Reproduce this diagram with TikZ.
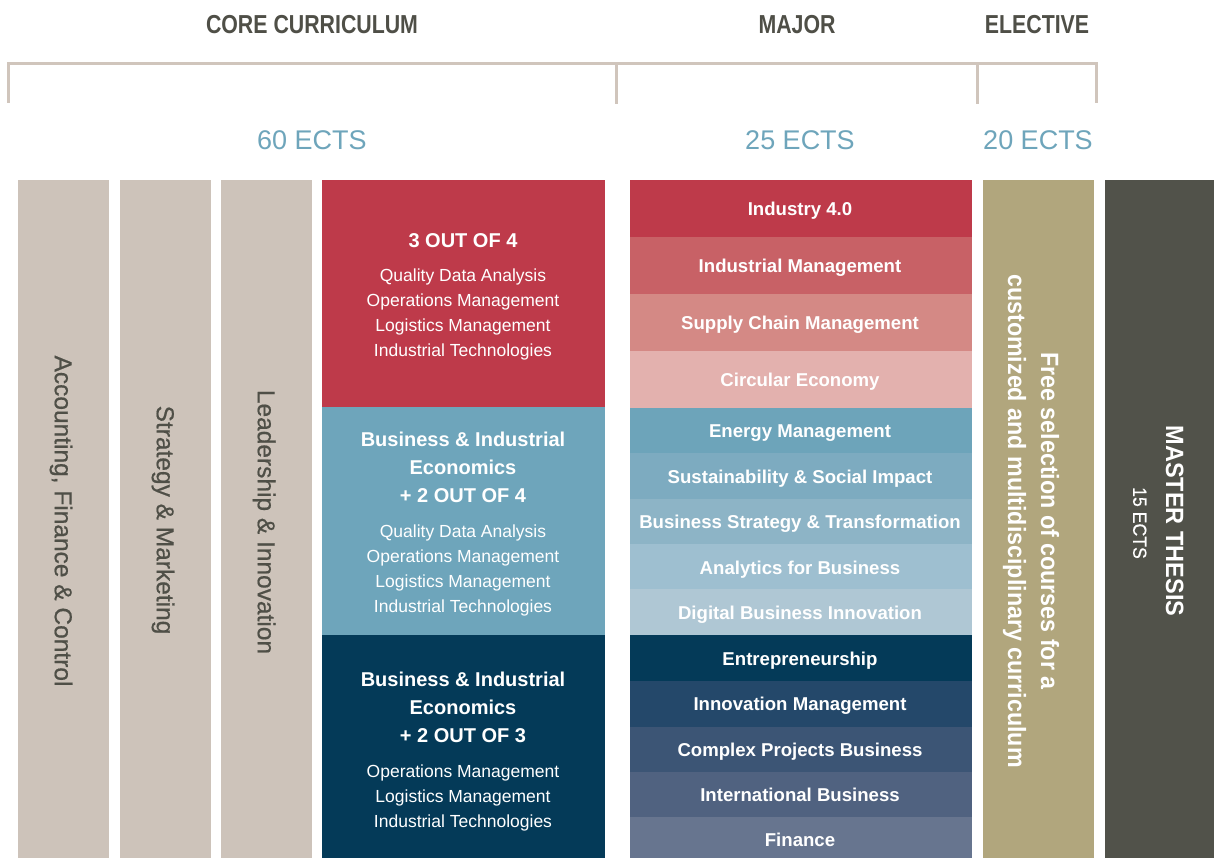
\documentclass[tikz,border=0pt]{standalone}
\usepackage{fontspec}
\setmainfont{Liberation Sans}
\newfontfamily\medfont[FakeBold=0.6]{Liberation Sans}
\definecolor{cTan}{HTML}{CDC3BA}
\definecolor{cRed}{HTML}{BE3A4A}
\definecolor{cBlue}{HTML}{6EA5BB}
\definecolor{cNavy}{HTML}{043A58}
\definecolor{cElec}{HTML}{B1A67D}
\definecolor{cThes}{HTML}{51524A}
\definecolor{cHead}{HTML}{4F4F47}
\definecolor{cEcts}{HTML}{6EA5BB}
\definecolor{cBr}{HTML}{D0C5BC}
\definecolor{mA}{HTML}{BE3A4A}
\definecolor{mB}{HTML}{C86166}
\definecolor{mC}{HTML}{D48985}
\definecolor{mD}{HTML}{E3B1AE}
\definecolor{mE}{HTML}{6DA4BA}
\definecolor{mF}{HTML}{7DABC0}
\definecolor{mG}{HTML}{8DB4C6}
\definecolor{mH}{HTML}{9EBFD0}
\definecolor{mI}{HTML}{AFC7D4}
\definecolor{mJ}{HTML}{043A58}
\definecolor{mK}{HTML}{24486A}
\definecolor{mL}{HTML}{3C5575}
\definecolor{mM}{HTML}{506280}
\definecolor{mN}{HTML}{67758F}
\begin{document}
\begin{tikzpicture}[x=1pt,y=-1pt,
  box/.style={inner sep=0pt, outer sep=0pt, anchor=north west, draw=none},
  brk/.style={draw=cBr, line width=3pt},
  hdr/.style={font=\bfseries\fontsize{26}{26}\selectfont, text=cHead, text height=18.6pt, text depth=0pt, inner sep=0pt},
  ects/.style={font=\fontsize{27}{27}\selectfont, text=cEcts, text height=19.3pt, text depth=0pt, inner sep=0pt},
  rowtext/.style={font=\bfseries\fontsize{18.6}{18.6}\selectfont, text=white, text height=13.3pt, text depth=0pt, inner sep=0pt},
  ttl/.style={font=\bfseries\fontsize{20}{20}\selectfont, text=white, text height=14.3pt, text depth=0pt, inner sep=0pt},
  lst/.style={font=\fontsize{17.5}{17.5}\selectfont, text=white, text height=12.5pt, text depth=0pt, inner sep=0pt},
  side/.style={font=\medfont\fontsize{24.5}{24.5}\selectfont, text=cHead, rotate=-90, text height=17.5pt, text depth=0pt, inner sep=0pt},
  elec/.style={font=\bfseries\fontsize{25}{25}\selectfont, text=white, rotate=-90, text height=17.9pt, text depth=0pt, inner sep=0pt},
  thes/.style={font=\bfseries\fontsize{25}{25}\selectfont, text=white, rotate=-90, text height=17.9pt, text depth=0pt, inner sep=0pt},
  thessub/.style={font=\medfont\fontsize{19}{19}\selectfont, text=white, rotate=-90, text height=13.6pt, text depth=0pt, inner sep=0pt}
]
\fill[white] (0,0) rectangle (1214,858);
\useasboundingbox (0,0) rectangle (1214,858);

% headings
\node[hdr] (hcore) at (312,24) {\scalebox{0.82}[1]{CORE CURRICULUM}};
\node[hdr] (hmaj) at (797,24) {\scalebox{0.82}[1]{MAJOR}};
\node[hdr] (helec) at (1037,24) {\scalebox{0.82}[1]{ELECTIVE}};

% bracket
\coordinate (bL) at (8,103);
\coordinate (bLt) at (8,64);
\coordinate (bRt) at (1096,64);
\coordinate (bR) at (1096,103);
\coordinate (b2t) at (616,64);
\coordinate (b2) at (616,104);
\coordinate (b3t) at (977,64);
\coordinate (b3) at (977,104);
\draw[brk] (bL) -- (bLt) -- (bRt) -- (bR);
\draw[brk] (b2t) -- (b2);
\draw[brk] (b3t) -- (b3);

% ECTS
\node[ects] (e60) at (312,140) {60 ECTS};
\node[ects] (e25) at (800,140) {25 ECTS};
\node[ects] (e20) at (1038,140) {20 ECTS};

% left columns
\node[box, fill=cTan, minimum width=91pt, minimum height=678pt] (c1) at (18,180) {};
\node[box, fill=cTan, minimum width=91pt, minimum height=678pt] (c2) at (120,180) {};
\node[box, fill=cTan, minimum width=91pt, minimum height=678pt] (c3) at (221,180) {};
\node[side] (c1t) at (63.5,521) {Accounting, Finance \& Control};
\node[side] (c2t) at (165.5,520) {Strategy \& Marketing};
\node[side] (c3t) at (266.5,522) {Leadership \& Innovation};

% core blocks
\node[box, fill=cRed, minimum width=283pt, minimum height=227pt] (k1) at (322,180) {};
\node[box, fill=cBlue, minimum width=283pt, minimum height=228pt] (k2) at (322,407) {};
\node[box, fill=cNavy, minimum width=283pt, minimum height=223pt] (k3) at (322,635) {};

\node[ttl] (k1a) at (463,240) {3 OUT OF 4};
\node[lst] (k1b) at (463,275) {Quality Data Analysis};
\node[lst] (k1c) at (463,300) {Operations Management};
\node[lst] (k1d) at (463,325) {Logistics Management};
\node[lst] (k1e) at (463,350) {Industrial Technologies};

\node[ttl] (k2a) at (463,439) {Business \& Industrial};
\node[ttl] (k2b) at (463,467) {Economics};
\node[ttl] (k2c) at (463,495) {+ 2 OUT OF 4};
\node[lst] (k2d) at (463,531) {Quality Data Analysis};
\node[lst] (k2e) at (463,556) {Operations Management};
\node[lst] (k2f) at (463,581) {Logistics Management};
\node[lst] (k2g) at (463,606) {Industrial Technologies};

\node[ttl] (k3a) at (463,679) {Business \& Industrial};
\node[ttl] (k3b) at (463,707) {Economics};
\node[ttl] (k3c) at (463,735) {+ 2 OUT OF 3};
\node[lst] (k3d) at (463,771) {Operations Management};
\node[lst] (k3e) at (463,796) {Logistics Management};
\node[lst] (k3f) at (463,821) {Industrial Technologies};

% major rows
\foreach \i/\ya/\yb/\ty/\c/\t in {
  1/180/237/209/mA/Industry 4.0,
  2/237/294/266/mB/Industrial Management,
  3/294/351/323/mC/Supply Chain Management,
  4/351/408/380/mD/Circular Economy,
  5/408/453/431/mE/Energy Management,
  6/453/499/477/mF/Sustainability \& Social Impact,
  7/499/544/522/mG/Business Strategy \& Transformation,
  8/544/589/568/mH/Analytics for Business,
  9/589/635/613/mI/Digital Business Innovation,
  10/635/681/659/mJ/Entrepreneurship,
  11/681/727/704/mK/Innovation Management,
  12/727/772/750/mL/Complex Projects Business,
  13/772/817/795/mM/International Business,
  14/817/858/840/mN/Finance}
{
  \node[box, fill=\c, minimum width=342pt, minimum height={(\yb-\ya)*1pt}] (m\i) at (630,\ya) {};
  \node[rowtext] (mt\i) at (800,\ty) {\t};
}

% elective
\node[box, fill=cElec, minimum width=111pt, minimum height=678pt] (el) at (983,180) {};
\node[elec] (el1) at (1050,521) {\scalebox{0.93}[1]{Free selection of courses for a}};
\node[elec] (el2) at (1017,521) {\scalebox{0.93}[1]{customized and multidisciplinary curriculum}};

% thesis
\node[box, fill=cThes, minimum width=109pt, minimum height=678pt] (th) at (1105,180) {};
\node[thes] (th1) at (1175,521) {\scalebox{0.94}[1]{MASTER THESIS}};
\node[thessub] (th2) at (1140,523) {\scalebox{0.93}[1]{15 ECTS}};
\end{tikzpicture}
\end{document}
